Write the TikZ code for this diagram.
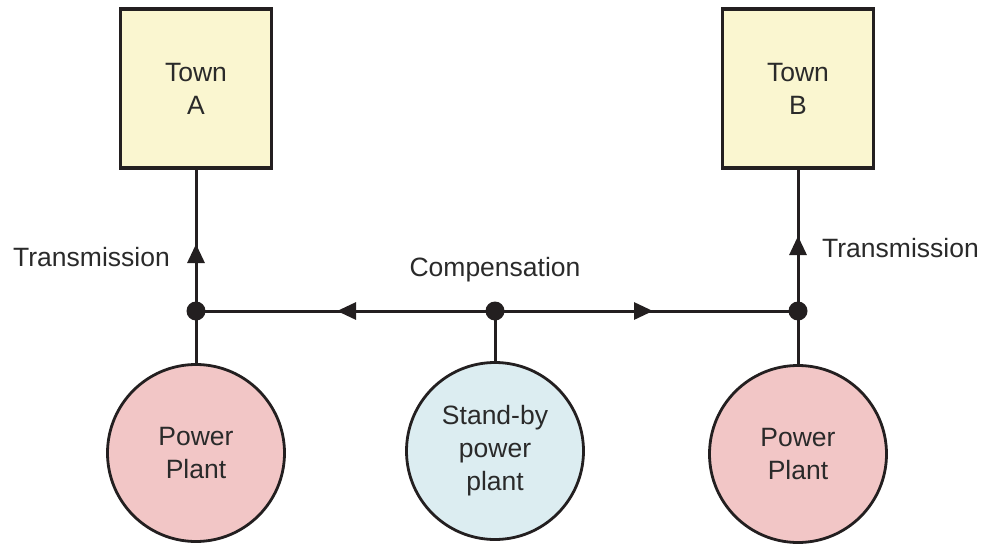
\documentclass[tikz,border=0pt]{standalone}
\usepackage{fontspec}
\setmainfont{Liberation Sans}
\usetikzlibrary{arrows.meta,decorations.markings}
\definecolor{linec}{HTML}{231F20}
\definecolor{txtc}{HTML}{2A2A2A}
\definecolor{townfill}{HTML}{FAF6D0}
\definecolor{plantfill}{HTML}{F2C6C6}
\definecolor{standbyfill}{HTML}{DCEDF1}
\tikzset{
  txt/.style={font=\fontsize{26.5}{33}\selectfont, text=txtc},
  townbox/.style={draw=linec, line width=3.4pt, fill=townfill, minimum width=151pt, minimum height=159pt, inner sep=0pt, align=center, txt},
  plant/.style={circle, draw=linec, line width=2.8pt, minimum size=177pt, inner sep=0pt, align=center, txt},
  junction/.style={circle, fill=linec, minimum size=19pt, inner sep=0pt},
  wire/.style={draw=linec, line width=3pt},
  midarrow/.style={postaction={decorate}, decoration={markings, mark=at position #1 with {\arrow[linec]{Triangle[length=19pt,width=17pt]}}}},
  label/.style={txt, inner sep=0pt, anchor=base west}
}
\begin{document}
\begin{tikzpicture}[x=1pt,y=-1pt]
\useasboundingbox (0,0) rectangle (982,546);
\node[townbox] (townA) at (196,88.5) {Town\\A};
\node[townbox] (townB) at (798,88.5) {Town\\B};
\node[plant, fill=plantfill] (plantA) at (196,453) {Power\\Plant};
\node[plant, fill=standbyfill] (standby) at (495,451) {Stand-by\\power\\plant};
\node[plant, fill=plantfill] (plantB) at (798,454) {Power\\Plant};
\coordinate (jA) at (196,311);
\coordinate (jM) at (495,311);
\coordinate (jB) at (798,311);
\draw[wire] (plantA.north) -- (jA);
\draw[wire] (standby.north) -- (jM);
\draw[wire] (plantB.north) -- (jB);
\draw[wire, midarrow=67pt] (jA) -- (townA.south);
\draw[wire, midarrow=75pt] (jB) -- (townB.south);
\draw[wire, midarrow=158pt] (jM) -- (jA);
\draw[wire, midarrow=158pt] (jM) -- (jB);
\node[junction] (dA) at (jA) {};
\node[junction] (dM) at (jM) {};
\node[junction] (dB) at (jB) {};
\node[label] (transA) at (13,266) {Transmission};
\node[label] (transB) at (822,257) {Transmission};
\node[txt, inner sep=0pt, anchor=base] (comp) at (495,276) {Compensation};
\end{tikzpicture}
\end{document}
